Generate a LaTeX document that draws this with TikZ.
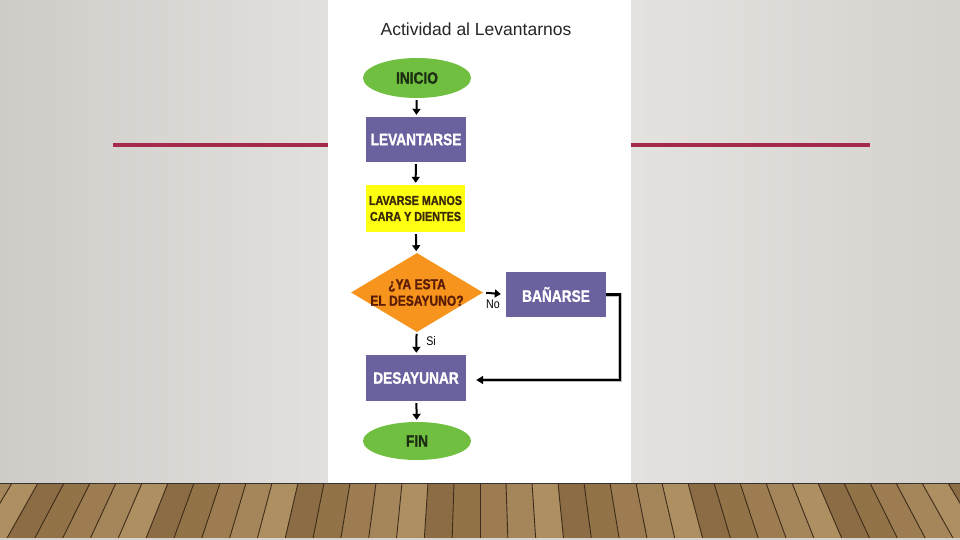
\documentclass[tikz,border=0pt]{standalone}
\usepackage{fontspec}
\setmainfont{Liberation Sans}
\newfontfamily\condf[FakeStretch=0.85]{Liberation Sans}
\newfontfamily\condb[FakeStretch=0.83, BoldFeatures={FakeBold=1.2}]{Liberation Sans}
\usetikzlibrary{shapes.geometric,arrows.meta}
\definecolor{bgside}{HTML}{CFCCC8}
\definecolor{bgmid}{HTML}{EBE9E6}
\definecolor{bgright}{HTML}{D5D2CE}
\definecolor{redline}{HTML}{A42A4B}
\definecolor{termgreen}{HTML}{70BF41}
\definecolor{procpurple}{HTML}{6A619F}
\definecolor{boxyellow}{HTML}{FFFF12}
\definecolor{decorange}{HTML}{F7941D}
\definecolor{darkgreen}{HTML}{1C2E12}
\definecolor{darkbrown}{HTML}{3A2A05}
\definecolor{maroon}{HTML}{5A1C05}
\definecolor{wood0}{HTML}{9C7C50}
\definecolor{wood1}{HTML}{AD8F62}
\definecolor{wood2}{HTML}{927247}
\definecolor{wood3}{HTML}{A5865A}
\definecolor{wood4}{HTML}{8C6C44}
\definecolor{woodline}{HTML}{3E2C1A}
\tikzset{
  term/.style={ellipse, fill=termgreen, minimum width=108pt, minimum height=40pt, inner sep=0pt,
    text=darkgreen, font=\condb\bfseries\fontsize{16.5}{18}\selectfont},
  proc/.style={rectangle, fill=procpurple, minimum width=100pt, minimum height=45pt, inner sep=0pt,
    text=white, font=\condb\bfseries\fontsize{16.5}{18}\selectfont},
  ybox/.style={rectangle, fill=boxyellow, minimum width=99pt, minimum height=47pt, inner sep=0pt,
    text=darkbrown, align=center, font=\condb\bfseries\fontsize{13}{16}\selectfont},
  decision/.style={diamond, fill=decorange, minimum width=132pt, minimum height=79pt, aspect=1.67, inner sep=-4pt,
    text=maroon, align=center, font=\condb\bfseries\fontsize{14.5}{16.5}\selectfont},
  arr/.style={line width=2pt, -{Triangle[length=6pt,width=8pt]}, shorten <=2pt, shorten >=2pt},
  lbl/.style={font=\condf\fontsize{12.5}{14}\selectfont, text=black, inner sep=0pt},
}
\begin{document}
\begin{tikzpicture}[x=1pt,y=-1pt]
\useasboundingbox (0,0) rectangle (960,540);
% background
\shade[left color=bgside, right color=bgright, middle color=bgmid] (0,0) rectangle (960,483);
% red lines
\draw[redline, line width=3.2pt] (113,145) -- (328,145);
\draw[redline, line width=3.2pt] (631,145) -- (870,145);
% floor
\begin{scope}
\clip (0,483) rectangle (960,538);
\fill[wood0] (0,483) rectangle (960,538);
\foreach \i [evaluate=\i as \m using {int(mod(\i*3+100,5))}] in {-20,...,19}{
  \pgfmathsetmacro{\ta}{480+\i*26}
  \pgfmathsetmacro{\tb}{480+(\i+1)*26}
  \pgfmathsetmacro{\ba}{480+\i*26*1.07}
  \pgfmathsetmacro{\bb}{480+(\i+1)*26*1.07}
  \fill[wood\m] (\ta,483) -- (\tb,483) -- (\bb,538) -- (\ba,538) -- cycle;
  \draw[woodline, line width=0.9pt] (\ta,483) -- (\ba,538);
}
\draw[black!80, line width=1.5pt] (0,483.5) -- (960,483.5);
\end{scope}
\fill[bgside!80!white] (0,538) rectangle (960,540);
% white panel
\fill[white] (328,0) rectangle (631,483);
% title
\node[font=\fontsize{17.5}{20}\selectfont, text=black!85] (title) at (476,29) {Actividad al Levantarnos};
% nodes
\node[term] (ini) at (417,78) {INICIO};
\node[proc] (lev) at (416,139.5) {LEVANTARSE};
\node[ybox] (lav) at (415.5,208.5) {LAVARSE MANOS\\CARA Y DIENTES};
\node[decision] (dec) at (417,292.5) {¿YA ESTA\\EL DESAYUNO?};
\node[proc] (ban) at (556,294.5) {BAÑARSE};
\node[proc, minimum height=46pt] (des) at (416,378) {DESAYUNAR};
\node[term, minimum height=38pt] (fin) at (417,441) {FIN};
% connectors
\draw[arr] (ini) -- (lev);
\draw[arr] (lev) -- (lav);
\draw[arr] (lav) -- (dec);
\draw[arr] (dec) -- (des);
\draw[arr] (des) -- (fin);
\draw[arr, shorten <=3pt, shorten >=5pt] (dec.east) -- (ban.west);
\draw[black!25, line width=4pt] (ban.east) -- ++(14,0) |- ([xshift=14pt,yshift=-2pt]des.east);
\draw[line width=2.2pt, -{Triangle[length=7pt,width=8pt]}, shorten >=10pt] (ban.east) -- ++(14,0) |- ([yshift=-2pt]des.east);
% labels
\node[lbl] (no) at (493,304) {No};
\node[lbl] (si) at (431,341) {Si};
\end{tikzpicture}
\end{document}
